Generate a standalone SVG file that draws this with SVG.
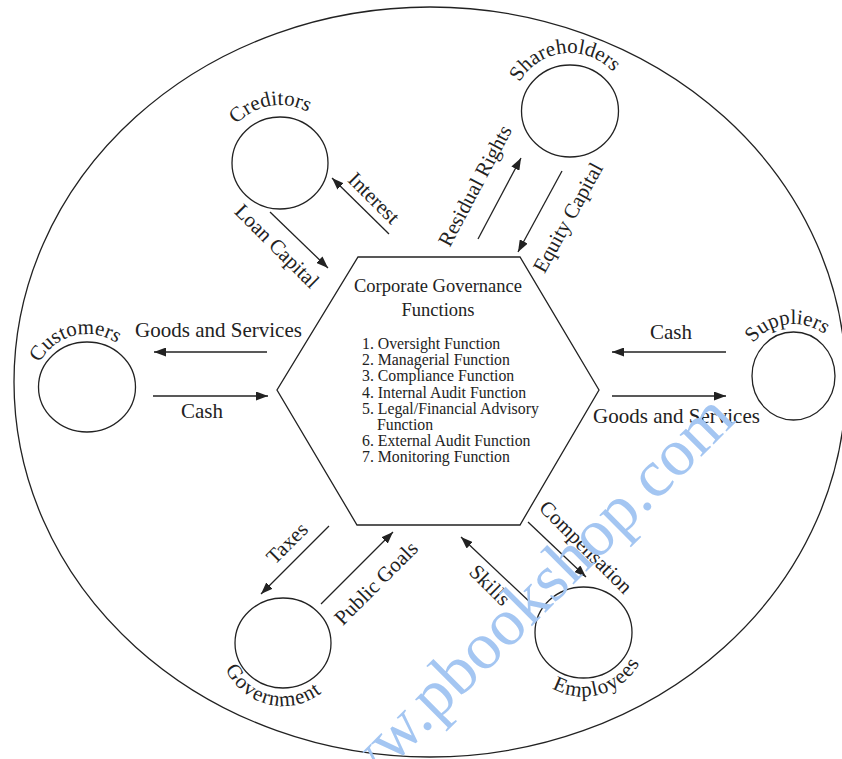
<svg xmlns="http://www.w3.org/2000/svg" width="842" height="759" viewBox="0 0 842 759">
  <style>
    .ln { fill: none; stroke: #222; stroke-width: 1.3; }
    .t { font-family: "Liberation Serif", "Times New Roman", serif; fill: #222; }
    .lb { font-size: 21px; }
    .sp { letter-spacing: 1px; }
    .ttl { font-size: 18.5px; }
    .li { font-size: 15.8px; }
    .arr { fill: none; stroke: #222; stroke-width: 1.3; marker-end: url(#ah); }
    .wm { font-family: "Liberation Serif", "Times New Roman", serif; font-size: 67px; fill: #a4c6f2; }
  </style>
  <defs>
    <marker id="ah" markerUnits="userSpaceOnUse" markerWidth="13" markerHeight="9" refX="12" refY="4.5" orient="auto">
      <path d="M0,0 L12,4.5 L0,9 Z" fill="#222"/>
    </marker>
    <path id="pCred" d="M222,163 A58,58 0 0 1 338,163"/>
    <path id="pShare" d="M512,111 A58,58 0 0 1 628,111"/>
    <path id="pCust" d="M34,387 A53,53 0 0 1 140,387"/>
    <path id="pSupp" d="M741.5,376 A52,52 0 0 1 845.5,376"/>
    <path id="pGov" d="M220,643 A63,63 0 0 0 346,643"/>
    <path id="pEmp" d="M519.5,632.5 A64,64 0 0 0 647.5,632.5"/>
  </defs>

  <g id="environment">
    <ellipse class="ln" cx="430" cy="382" rx="416" ry="375"/>
  </g>

  <g id="corporate-governance">
    <polygon class="ln" points="358,257 520,257 599,390 520,525 357,525 277,390"/>
    <text class="t ttl" x="438" y="292" text-anchor="middle">Corporate Governance</text>
    <text class="t ttl" x="438" y="316" text-anchor="middle">Functions</text>
    <text class="t li" x="362" y="349">1. Oversight Function</text>
    <text class="t li" x="362" y="365">2. Managerial Function</text>
    <text class="t li" x="362" y="381">3. Compliance Function</text>
    <text class="t li" x="362" y="397.5">4. Internal Audit Function</text>
    <text class="t li" x="362" y="413.5">5. Legal/Financial Advisory</text>
    <text class="t li" x="377" y="429.5">Function</text>
    <text class="t li" x="362" y="446">6. External Audit Function</text>
    <text class="t li" x="362" y="462">7. Monitoring Function</text>
  </g>

  <g id="creditors">
    <ellipse class="ln" cx="280" cy="163" rx="48" ry="46"/>
    <text class="t lb"><textPath href="#pCred" startOffset="44.5%" text-anchor="middle">Creditors</textPath></text>
  </g>

  <g id="shareholders">
    <ellipse class="ln" cx="570" cy="111" rx="48.5" ry="46"/>
    <text class="t lb"><textPath href="#pShare" startOffset="46.5%" text-anchor="middle">Shareholders</textPath></text>
  </g>

  <g id="customers">
    <ellipse class="ln" cx="87" cy="387" rx="48.5" ry="45"/>
    <text class="t lb"><textPath href="#pCust" startOffset="42%" text-anchor="middle">Customers</textPath></text>
  </g>

  <g id="suppliers">
    <ellipse class="ln" cx="793.5" cy="376" rx="41.5" ry="44"/>
    <text class="t lb"><textPath href="#pSupp" startOffset="46%" text-anchor="middle">Suppliers</textPath></text>
  </g>

  <g id="government">
    <ellipse class="ln" cx="283" cy="643" rx="48" ry="45"/>
    <text class="t lb sp"><textPath href="#pGov" startOffset="42.5%" text-anchor="middle">Government</textPath></text>
  </g>

  <g id="employees">
    <ellipse class="ln" cx="583.5" cy="632.5" rx="48.5" ry="45.5"/>
    <text class="t lb sp"><textPath href="#pEmp" startOffset="59%" text-anchor="middle">Employees</textPath></text>
  </g>

  <g id="connectors">
    <line class="arr" x1="389" y1="234" x2="332" y2="178"/>
    <line class="arr" x1="270" y1="212" x2="328" y2="268"/>
    <line class="arr" x1="478" y1="239" x2="521" y2="158"/>
    <line class="arr" x1="562" y1="171" x2="518" y2="252"/>
    <line class="arr" x1="267" y1="352" x2="154" y2="352"/>
    <line class="arr" x1="153" y1="396" x2="268" y2="396"/>
    <line class="arr" x1="726" y1="352" x2="612" y2="352"/>
    <line class="arr" x1="612" y1="396" x2="726" y2="396"/>
    <line class="arr" x1="329" y1="526" x2="261" y2="594"/>
    <line class="arr" x1="321" y1="604" x2="393" y2="532"/>
    <line class="arr" x1="533" y1="605" x2="461" y2="537"/>
    <line class="arr" x1="528" y1="522" x2="586" y2="577"/>

    <text class="t lb" transform="translate(369,203) rotate(45)" text-anchor="middle">Interest</text>
    <text class="t lb" transform="translate(272,251) rotate(45)" text-anchor="middle">Loan Capital</text>
    <text class="t lb" transform="translate(481,189) rotate(-62)" text-anchor="middle">Residual Rights</text>
    <text class="t lb" transform="translate(574,221) rotate(-61)" text-anchor="middle">Equity Capital</text>
    <text class="t lb" x="218.5" y="337" text-anchor="middle">Goods and Services</text>
    <text class="t lb" x="202" y="418" text-anchor="middle">Cash</text>
    <text class="t lb" x="671" y="339" text-anchor="middle">Cash</text>
    <text class="t lb" x="676.5" y="423" text-anchor="middle">Goods and Services</text>
    <text class="t lb" transform="translate(292,548) rotate(-45)" text-anchor="middle">Taxes</text>
    <text class="t lb" transform="translate(381,588) rotate(-45)" text-anchor="middle">Public Goals</text>
    <text class="t lb" transform="translate(485,590) rotate(45)" text-anchor="middle">Skills</text>
    <text class="t lb" transform="translate(581,552) rotate(45)" text-anchor="middle">Compensation</text>
  </g>

  <g id="watermark">
    <text class="wm" transform="translate(737,421) rotate(-45)" text-anchor="end">www.pbookshop.com</text>
  </g>
</svg>
